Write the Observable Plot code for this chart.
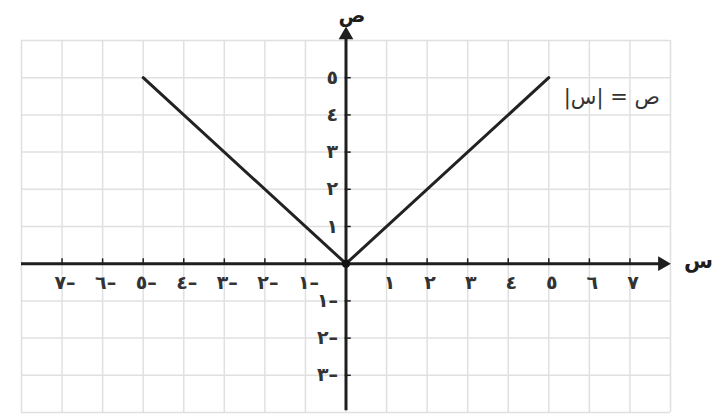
<!DOCTYPE html>
<html><head><meta charset="utf-8">
<script src="https://cdn.jsdelivr.net/npm/d3@7"></script>
<script src="https://cdn.jsdelivr.net/npm/@observablehq/plot@0.6"></script>
<style>
body{margin:0;background:#fff;}
svg{font-family:"DejaVu Sans",sans-serif;}
</style>
</head><body><div id="chart"></div>
<script>
// function y = |x| drawn between x = -5 and x = 5
const lineX = [-5, 0, 5];
const lineY = [5, 0, 5];
// grid lines
const gridXs = [-8,-7,-6,-5,-4,-3,-2,-1,0,1,2,3,4,5,6,7,8];
const gridYs = [-4,-3,-2,-1,0,1,2,3,4,5,6];
// tick values and labels
const xTicks = [-7,-6,-5,-4,-3,-2,-1,1,2,3,4,5,6,7];
const xTickLabels = ["٧–","٦–","٥–","٤–","٣–","٢–","١–","١","٢","٣","٤","٥","٦","٧"];
const yTicks = [-3,-2,-1,1,2,3,4,5];
const yTickLabels = ["٣–","٢–","١–","١","٢","٣","٤","٥"];
const xAxisTitle = "س";
const yAxisTitle = "ص";
const curveLabel = "\u2067ص = |س|\u2069";

const xt = xTicks.map((v,i)=>({v, label:xTickLabels[i]}));
const yt = yTicks.map((v,i)=>({v, label:yTickLabels[i]}));
const ink = "#1e1e1e";

const chart = Plot.plot({
  width: 713, height: 414,
  marginLeft: 21, marginRight: 43, marginTop: 40, marginBottom: 2,
  x: {domain: [-8, 8], axis: null},
  y: {domain: [-4, 6], axis: null},
  marks: [
    Plot.ruleX(gridXs, {x: d => d, stroke: "#e0e0e0", strokeWidth: 1.5}),
    Plot.ruleY(gridYs, {y: d => d, stroke: "#e0e0e0", strokeWidth: 1.5}),
    // axes
    Plot.ruleY([0], {x1: gridXs[0], x2: 7.8, stroke: ink, strokeWidth: 3}),
    Plot.ruleX([0], {y1: gridYs[0] + 0.05, y2: 6.1, stroke: ink, strokeWidth: 3}),
    Plot.dot([{x: 7.8, y: 0}], {x: "x", y: "y", symbol: "triangle2", rotate: 90, r: 7, fill: ink, stroke: null}),
    Plot.dot([{x: 0, y: 6.15}], {x: "x", y: "y", symbol: "triangle2", rotate: 0, r: 7, fill: ink, stroke: null}),
    // ticks
    Plot.ruleX(xt, {x: "v", y1: -0.03, y2: 0.13, stroke: ink, strokeWidth: 1.5}),
    Plot.ruleY(yt, {y: "v", x1: -0.02, x2: 0.13, stroke: ink, strokeWidth: 1.5}),
    Plot.text(xt, {x: "v", y: 0, text: "label", dy: 19, dx: 3, fontSize: 19, fontWeight: "bold", fill: "#333"}),
    Plot.text(yt, {x: 0, y: "v", text: "label", dx: -8, textAnchor: "end", fontSize: 19, fontWeight: "bold", fill: "#333"}),
    // axis titles
    Plot.text([yAxisTitle], {x: 0, y: 6, text: d => d, dx: 6, dy: -25, fontSize: 20, fontWeight: "bold", fill: ink}),
    Plot.text([xAxisTitle], {x: 8, y: 0, text: d => d, dx: 28, dy: -2, fontSize: 21, fontWeight: "bold", fill: ink}),
    // function line
    Plot.line(lineX.map((x,i)=>({x, y: lineY[i]})), {x: "x", y: "y", stroke: "#222", strokeWidth: 3}),
    Plot.dot([{x: lineX[1], y: lineY[1]}], {x: "x", y: "y", r: 4, fill: "#111"}),
    Plot.text([curveLabel], {x: lineX[2], y: lineY[2], text: d => d, dx: 63, dy: 20, fontSize: 21, fill: "#333"})
  ]
});
document.getElementById("chart").appendChild(chart);
</script>
</body></html>
